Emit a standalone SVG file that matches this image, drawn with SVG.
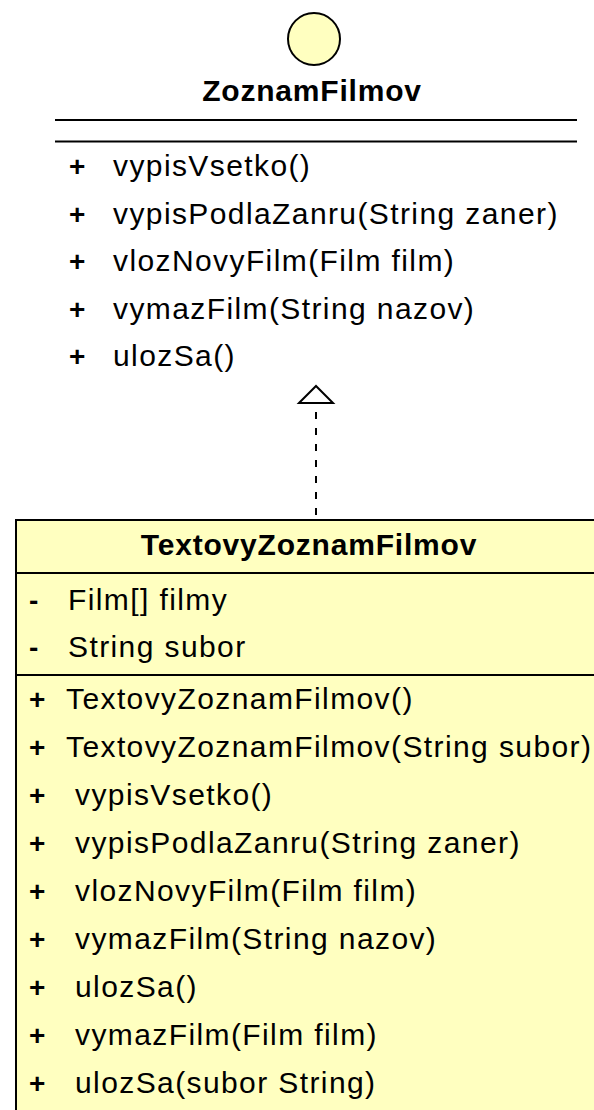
<svg xmlns="http://www.w3.org/2000/svg" width="594" height="1110" viewBox="0 0 594 1110">
<style>
text{font-family:"Liberation Sans",Arial,sans-serif;font-size:30px;letter-spacing:1.4px;fill:#000}
.b{font-weight:bold;font-size:28px}
.t{font-weight:bold;text-anchor:middle;letter-spacing:0.8px}
.ln{stroke:#000;stroke-width:2;fill:none}
.box{fill:#FFFFC0;stroke:#000;stroke-width:2}
</style>
<defs>
<marker id="realize" markerUnits="userSpaceOnUse" markerWidth="22" markerHeight="40" viewBox="-2 -20 22 40" refX="0" refY="0" orient="auto" overflow="visible">
<path d="M0,-17 L17,0 L0,17 Z" fill="#fff" stroke="#000" stroke-width="2" stroke-dasharray="none" stroke-linejoin="miter"/>
</marker>
</defs>
<rect width="594" height="1110" fill="#fff"/>
<g id="ZoznamFilmov">
<circle cx="314" cy="39" r="26" fill="#FFFFC0" stroke="#000" stroke-width="2"/>
<text class="t" x="312" y="101">ZoznamFilmov</text>
<line class="ln" x1="55" y1="120" x2="577" y2="120"/>
<line class="ln" x1="55" y1="141.5" x2="577" y2="141.5"/>
<text class="b" x="69" y="176">+</text><text x="113" y="176">vypisVsetko()</text>
<text class="b" x="69" y="223.5">+</text><text x="113" y="223.5">vypisPodlaZanru(String zaner)</text>
<text class="b" x="69" y="271">+</text><text x="113" y="271">vlozNovyFilm(Film film)</text>
<text class="b" x="69" y="318.5">+</text><text x="113" y="318.5">vymazFilm(String nazov)</text>
<text class="b" x="69" y="366">+</text><text x="113" y="366">ulozSa()</text>
</g>
<g id="TextovyZoznamFilmov">
<rect class="box" x="16" y="520" width="600" height="620"/>
<text class="t" x="309" y="555">TextovyZoznamFilmov</text>
<line class="ln" x1="16" y1="573" x2="594" y2="573"/>
<text class="b" x="29" y="610">-</text><text x="68" y="610">Film[] filmy</text>
<text class="b" x="29" y="657">-</text><text x="68" y="657">String subor</text>
<line class="ln" x1="16" y1="675" x2="594" y2="675"/>
<text class="b" x="29" y="709">+</text><text x="66" y="709">TextovyZoznamFilmov()</text>
<text class="b" x="29" y="757">+</text><text x="66" y="757">TextovyZoznamFilmov(String subor)</text>
<text class="b" x="29" y="805">+</text><text x="75" y="805">vypisVsetko()</text>
<text class="b" x="29" y="853">+</text><text x="75" y="853">vypisPodlaZanru(String zaner)</text>
<text class="b" x="29" y="901">+</text><text x="75" y="901">vlozNovyFilm(Film film)</text>
<text class="b" x="29" y="949">+</text><text x="75" y="949">vymazFilm(String nazov)</text>
<text class="b" x="29" y="997">+</text><text x="75" y="997">ulozSa()</text>
<text class="b" x="29" y="1045">+</text><text x="75" y="1045">vymazFilm(Film film)</text>
<text class="b" x="29" y="1093">+</text><text x="75" y="1093">ulozSa(subor String)</text>
</g>
<g id="connectors">
<path d="M316,520 V403" stroke="#000" stroke-width="2" fill="none" stroke-dasharray="7 9" stroke-dashoffset="11" marker-end="url(#realize)"/>
</g>
</svg>
